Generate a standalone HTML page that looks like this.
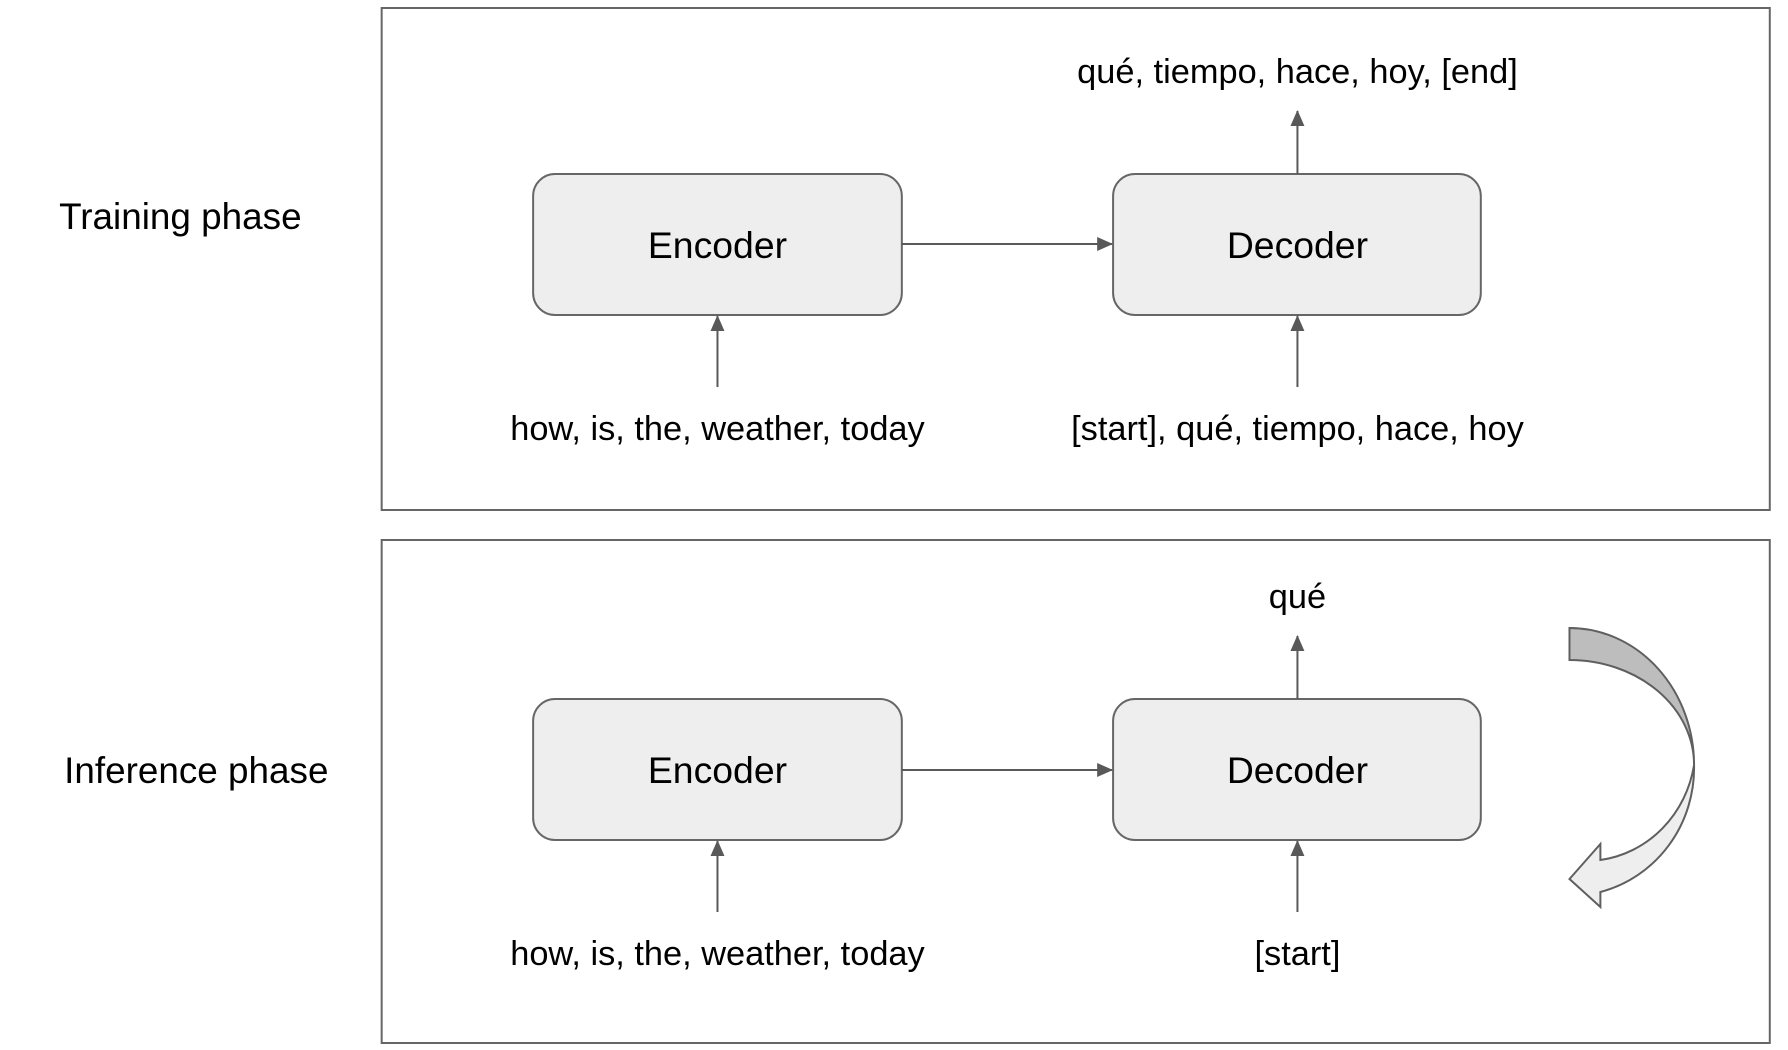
<!DOCTYPE html>
<html><head><meta charset="utf-8"><style>
html,body{margin:0;padding:0;background:#fff;}
svg{display:block;}
text{font-family:"Liberation Sans",Arial,sans-serif;fill:#000;}
</style></head><body>
<svg width="1788" height="1050" viewBox="0 0 1788 1050" xmlns="http://www.w3.org/2000/svg">
<defs>
<marker id="a" viewBox="0 0 16 14" refX="15" refY="7" markerWidth="16" markerHeight="14" orient="auto" markerUnits="userSpaceOnUse"><path d="M0,0 L16,7 L0,14 Z" fill="#595959"/></marker>
</defs>
<g transform="scale(0.9965,1)">
<rect x="383" y="8" width="1393" height="502" fill="none" stroke="#666" stroke-width="2"/>
<rect x="383" y="540" width="1393" height="503" fill="none" stroke="#666" stroke-width="2"/>

<text x="181" y="229" font-size="37" text-anchor="middle">Training phase</text>
<text x="197" y="783" font-size="37" text-anchor="middle">Inference phase</text>

<!-- training -->
<rect x="535" y="174" width="370" height="141" rx="22" fill="#eeeeee" stroke="#666" stroke-width="2"/>
<rect x="1117" y="174" width="369" height="141" rx="22" fill="#eeeeee" stroke="#666" stroke-width="2"/>
<text x="720" y="258" font-size="37.5" text-anchor="middle">Encoder</text>
<text x="1302" y="258" font-size="37.5" text-anchor="middle">Decoder</text>
<line x1="905" y1="244" x2="1116" y2="244" stroke="#595959" stroke-width="2" marker-end="url(#a)"/>
<line x1="720" y1="387" x2="720" y2="316" stroke="#595959" stroke-width="2" marker-end="url(#a)"/>
<line x1="1302" y1="387" x2="1302" y2="316" stroke="#595959" stroke-width="2" marker-end="url(#a)"/>
<line x1="1302" y1="174" x2="1302" y2="111" stroke="#595959" stroke-width="2" marker-end="url(#a)"/>
<text x="720" y="440" font-size="34.5" text-anchor="middle">how, is, the, weather, today</text>
<text x="1302" y="440" font-size="34.5" text-anchor="middle">[start], qué, tiempo, hace, hoy</text>
<text x="1302" y="83" font-size="34.5" text-anchor="middle">qué, tiempo, hace, hoy, [end]</text>

<!-- inference -->
<rect x="535" y="699" width="370" height="141" rx="22" fill="#eeeeee" stroke="#666" stroke-width="2"/>
<rect x="1117" y="699" width="369" height="141" rx="22" fill="#eeeeee" stroke="#666" stroke-width="2"/>
<text x="720" y="783" font-size="37.5" text-anchor="middle">Encoder</text>
<text x="1302" y="783" font-size="37.5" text-anchor="middle">Decoder</text>
<line x1="905" y1="770" x2="1116" y2="770" stroke="#595959" stroke-width="2" marker-end="url(#a)"/>
<line x1="720" y1="912" x2="720" y2="841" stroke="#595959" stroke-width="2" marker-end="url(#a)"/>
<line x1="1302" y1="912" x2="1302" y2="841" stroke="#595959" stroke-width="2" marker-end="url(#a)"/>
<line x1="1302" y1="699" x2="1302" y2="636" stroke="#595959" stroke-width="2" marker-end="url(#a)"/>
<text x="720" y="965" font-size="34.5" text-anchor="middle">how, is, the, weather, today</text>
<text x="1302" y="965" font-size="34.5" text-anchor="middle">[start]</text>
<text x="1302" y="608" font-size="34.5" text-anchor="middle">qué</text>

<!-- curved arrow -->
<path d="M1575,628 A125,137 0 0 1 1700,765 A125,105 0 0 0 1575,660 Z" fill="#bdbdbd" stroke="#5f5f5f" stroke-width="2"/>
<path d="M1700,765 A125,128 0 0 1 1606,892 L1606,907 L1575,879 L1606,844 L1606,860 A110,115 0 0 0 1700,765 Z" fill="#eeeeee" stroke="#5f5f5f" stroke-width="2"/>
</g>
</svg>
</body></html>
